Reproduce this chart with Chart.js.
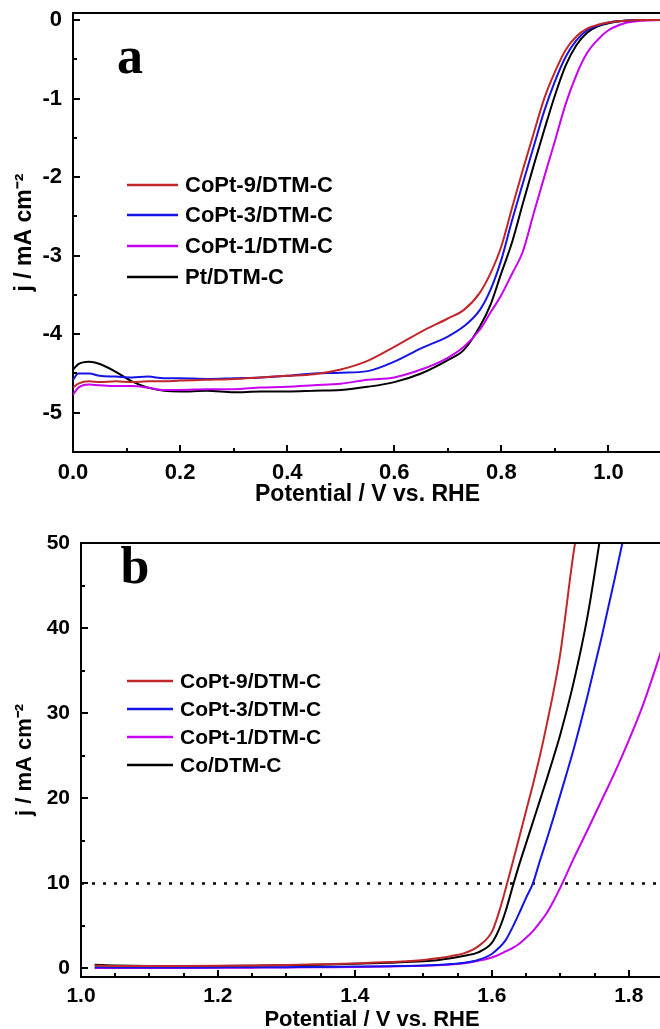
<!DOCTYPE html>
<html>
<head>
<meta charset="utf-8">
<script src="https://cdn.jsdelivr.net/npm/chart.js@4.4.1/dist/chart.umd.min.js"></script>
<style>
  html, body { margin: 0; padding: 0; background: #fff; overflow: hidden; width: 660px; height: 1029px; }
  .panel { position: absolute; left: 0; }
  #boxA { top: 0; width: 662px; height: 515px; }
  #boxB { top: 515px; width: 663px; height: 530px; }
</style>
</head>
<body>
<div class="panel" id="boxA"><canvas id="chartA"></canvas></div>
<div class="panel" id="boxB"><canvas id="chartB"></canvas></div>
<script>
// ---- panel a : ORR polarisation curves ----
const potA = [0.00, 0.01, 0.03, 0.05, 0.08, 0.11, 0.14, 0.17, 0.20, 0.25, 0.30, 0.35, 0.40, 0.45, 0.50, 0.55,
  0.60, 0.65, 0.70, 0.73, 0.76, 0.78, 0.80, 0.82, 0.84, 0.86, 0.88, 0.90, 0.92, 0.94, 0.96, 0.98, 1.00, 1.03, 1.06, 1.10];
const jCoPt9A = [-4.68, -4.63, -4.60, -4.61, -4.60, -4.61, -4.60, -4.60, -4.59, -4.58, -4.57, -4.55, -4.53, -4.51, -4.45, -4.34,
  -4.16, -3.97, -3.80, -3.69, -3.47, -3.22, -2.88, -2.39, -1.91, -1.45, -1.00, -0.66, -0.38, -0.21, -0.11, -0.06, -0.03, -0.01, 0, 0];
const jCoPt3A = [-4.58, -4.50, -4.50, -4.53, -4.54, -4.55, -4.54, -4.56, -4.56, -4.57, -4.56, -4.55, -4.53, -4.50, -4.49, -4.47,
  -4.35, -4.18, -4.03, -3.90, -3.69, -3.43, -3.05, -2.55, -2.08, -1.62, -1.16, -0.78, -0.47, -0.26, -0.13, -0.07, -0.03, -0.01, 0, 0];
const jCoPt1A = [-4.77, -4.68, -4.64, -4.65, -4.66, -4.66, -4.68, -4.71, -4.71, -4.70, -4.70, -4.68, -4.67, -4.65, -4.63, -4.58,
  -4.55, -4.45, -4.30, -4.16, -3.94, -3.72, -3.50, -3.23, -2.95, -2.47, -2.00, -1.54, -1.07, -0.70, -0.42, -0.25, -0.13, -0.04, -0.01, 0];
const jPtA = [-4.45, -4.38, -4.35, -4.38, -4.48, -4.60, -4.68, -4.72, -4.73, -4.72, -4.74, -4.73, -4.73, -4.72, -4.71, -4.67,
  -4.61, -4.50, -4.33, -4.20, -3.90, -3.62, -3.22, -2.83, -2.34, -1.86, -1.40, -0.96, -0.58, -0.32, -0.16, -0.08, -0.04, -0.01, 0, 0];
const namesA = ['CoPt-9/DTM-C', 'CoPt-3/DTM-C', 'CoPt-1/DTM-C', 'Pt/DTM-C'];
const xRangeA = [0, 1.1];
const yRangeA = [-5.5, 0.09];
const xTicksA = [0, 0.1, 0.2, 0.3, 0.4, 0.5, 0.6, 0.7, 0.8, 0.9, 1.0];
const xLabelsA = ['0.0', '', '0.2', '', '0.4', '', '0.6', '', '0.8', '', '1.0'];
const yTicksA = [-5, -4.5, -4, -3.5, -3, -2.5, -2, -1.5, -1, -0.5, 0];
const yLabelsA = ['-5', '', '-4', '', '-3', '', '-2', '', '-1', '', '0'];

// ---- panel b : OER polarisation curves ----
const potB = [1.02, 1.05, 1.10, 1.15, 1.20, 1.25, 1.30, 1.35, 1.40, 1.45, 1.50, 1.52, 1.54, 1.56, 1.58, 1.60, 1.61,
  1.62, 1.63, 1.64, 1.65, 1.66, 1.67, 1.68, 1.69, 1.70, 1.72, 1.74, 1.76, 1.78, 1.80, 1.82, 1.84, 1.86];
const jCoPt9B = [0.35, 0.30, 0.30, 0.30, 0.32, 0.36, 0.42, 0.50, 0.60, 0.75, 1.0, 1.2, 1.45, 1.8, 2.6, 4.3, 6.5,
  9.3, 12.3, 15.4, 18.5, 21.6, 24.9, 28.6, 32.5, 37.0, 49.2, 58, null, null, null, null, null, null];
const jCoPt3B = [0.15, 0.12, 0.12, 0.12, 0.13, 0.14, 0.16, 0.18, 0.22, 0.27, 0.35, 0.42, 0.52, 0.68, 1.0, 1.7, 2.4,
  3.3, 4.8, 6.5, 8.3, 10.0, 12.6, 15.1, 17.7, 20.4, 25.9, 32.1, 38.8, 46.0, 53.5, null, null, null];
const jCoPt1B = [0.05, 0.05, 0.06, 0.07, 0.08, 0.10, 0.12, 0.15, 0.18, 0.23, 0.32, 0.38, 0.48, 0.62, 0.9, 1.3, 1.6,
  2.0, 2.4, 2.9, 3.6, 4.4, 5.4, 6.5, 7.9, 9.5, 13.0, 16.3, 19.7, 23.1, 26.8, 30.8, 35.5, 40.5];
const jCoB = [0.45, 0.35, 0.30, 0.30, 0.30, 0.33, 0.38, 0.45, 0.55, 0.68, 0.85, 0.98, 1.2, 1.5, 1.9, 3.0, 4.5,
  6.7, 9.5, 12.2, 14.7, 17.2, 19.7, 22.2, 24.8, 27.5, 33.8, 41.5, 51.5, null, null, null, null, null];
const namesB = ['CoPt-9/DTM-C', 'CoPt-3/DTM-C', 'CoPt-1/DTM-C', 'Co/DTM-C'];
const xRangeB = [1.0, 1.85];
const yRangeB = [-1, 50];
const refLevelB = 10;
const xTicksB = [1.0, 1.05, 1.1, 1.15, 1.2, 1.25, 1.3, 1.35, 1.4, 1.45, 1.5, 1.55, 1.6, 1.65, 1.7, 1.75, 1.8];
const xLabelsB = ['1.0', '', '', '', '1.2', '', '', '', '1.4', '', '', '', '1.6', '', '', '', '1.8'];
const yTicksB = [0, 5, 10, 15, 20, 25, 30, 35, 40, 45, 50];
const yLabelsB = ['0', '', '10', '', '20', '', '30', '', '40', '', '50'];

const seriesColors = ['#c0262a', '#1414e6', '#c800f0', '#000000'];
const sans = '"Liberation Sans", Arial, sans-serif';

function toXY(xs, ys) {
  return xs.map((x, i) => ({ x: x, y: ys[i] }));
}

// no extra room for overhanging tick labels: the plot box is placed by hand
function noOverhang(s) {
  s.paddingTop = 0;
  s.paddingBottom = 0;
  s.paddingLeft = 0;
  s.paddingRight = 0;
}

// top/right frame, inward tick marks, panel letter and the in-plot legend
const framePlugin = {
  id: 'frame',
  afterDraw(chart, args, opts) {
    const { ctx, chartArea: a } = chart;
    ctx.save();
    ctx.strokeStyle = '#000';
    ctx.lineWidth = 2;
    ctx.beginPath();
    ctx.moveTo(a.left - 1, a.top);
    ctx.lineTo(a.right, a.top);
    ctx.lineTo(a.right, a.bottom);
    const xs = chart.scales.x, ys = chart.scales.y;
    xs.ticks.forEach(t => {
      const px = Math.round(xs.getPixelForValue(t.value));
      ctx.moveTo(px, a.bottom);
      ctx.lineTo(px, a.bottom - (t.label ? 7 : 4));
    });
    ys.ticks.forEach(t => {
      const py = Math.round(ys.getPixelForValue(t.value));
      ctx.moveTo(a.left, py);
      ctx.lineTo(a.left + (t.label ? 7 : 4), py);
    });
    ctx.stroke();

    ctx.fillStyle = '#000';
    ctx.font = 'bold 52px "Liberation Serif", "Times New Roman", serif';
    ctx.textAlign = 'center';
    ctx.textBaseline = 'alphabetic';
    ctx.fillText(opts.letter, a.left + opts.letterX, a.top + opts.letterY);

    ctx.font = 'bold ' + opts.legendSize + 'px ' + sans;
    ctx.textAlign = 'left';
    ctx.textBaseline = 'middle';
    opts.names.forEach((name, i) => {
      const y = a.top + opts.rows[i];
      ctx.strokeStyle = seriesColors[i];
      ctx.lineWidth = 2.5;
      ctx.beginPath();
      ctx.moveTo(a.left + opts.lineX[0], y);
      ctx.lineTo(a.left + opts.lineX[1], y);
      ctx.stroke();
      ctx.fillText(name, a.left + opts.textX, y + 1);
    });
    ctx.restore();
  }
};

function makeChart(id, cfg) {
  const datasets = cfg.series.map((ys, i) => ({
    label: cfg.names[i],
    data: toXY(cfg.pot, ys),
    borderColor: seriesColors[i],
    borderWidth: 2,
    pointRadius: 0,
    cubicInterpolationMode: 'monotone'
  }));
  if (cfg.extra) datasets.push(cfg.extra);
  return new Chart(document.getElementById(id), {
    type: 'line',
    data: { datasets: datasets },
    plugins: [framePlugin],
    options: {
      responsive: true,
      maintainAspectRatio: false,
      animation: false,
      layout: { padding: { top: cfg.padTop, right: 0, bottom: 0, left: 0 } },
      plugins: {
        legend: { display: false },
        tooltip: { enabled: false },
        frame: cfg.frame
      },
      scales: {
        x: {
          type: 'linear',
          min: cfg.xRange[0],
          max: cfg.xRange[1],
          afterBuildTicks: (s) => { s.ticks = cfg.xTicks.map(v => ({ value: v })); },
          afterFit: (s) => { s.height = cfg.xAxisH; noOverhang(s); },
          grid: { display: false, drawTicks: false },
          border: { display: true, color: '#000', width: 2 },
          ticks: {
            autoSkip: false, maxRotation: 0, padding: cfg.xTickPad, color: '#000',
            font: { family: sans, size: cfg.tickSize, weight: 'bold' },
            callback: (v, i) => cfg.xLabels[i]
          },
          title: {
            display: true, text: 'Potential / V vs. RHE', color: '#000',
            font: { family: sans, size: cfg.titleSize, weight: 'bold' },
            padding: { top: 0, bottom: cfg.xTitlePad }
          }
        },
        y: {
          min: cfg.yRange[0],
          max: cfg.yRange[1],
          afterBuildTicks: (s) => { s.ticks = cfg.yTicks.map(v => ({ value: v })); },
          afterFit: (s) => { s.width = cfg.yAxisW; noOverhang(s); },
          grid: { display: false, drawTicks: false },
          border: { display: true, color: '#000', width: 2 },
          ticks: {
            autoSkip: false, padding: 11, color: '#000',
            font: { family: sans, size: cfg.tickSize, weight: 'bold' },
            callback: (v, i) => cfg.yLabels[i]
          },
          title: {
            display: true, text: 'j / mA cm\u207B\u00B2', color: '#000',
            font: { family: sans, size: cfg.titleSize, weight: 'bold' },
            padding: { top: cfg.yTitlePad, bottom: 0 }
          }
        }
      }
    }
  });
}

makeChart('chartA', {
  pot: potA, series: [jCoPt9A, jCoPt3A, jCoPt1A, jPtA], names: namesA,
  xRange: xRangeA, yRange: yRangeA, xTicks: xTicksA, xLabels: xLabelsA, yTicks: yTicksA, yLabels: yLabelsA,
  padTop: 13, xAxisH: 63, yAxisW: 73, tickSize: 22, titleSize: 23, xTickPad: 8, xTitlePad: 7, yTitlePad: 11,
  frame: { letter: 'a', letterX: 57, letterY: 60, names: namesA, legendSize: 22,
    lineX: [54, 105], textX: 112, rows: [172, 202, 233, 264] }
});

makeChart('chartB', {
  pot: potB, series: [jCoPt9B, jCoPt3B, jCoPt1B, jCoB], names: namesB,
  xRange: xRangeB, yRange: yRangeB, xTicks: xTicksB, xLabels: xLabelsB, yTicks: yTicksB, yLabels: yLabelsB,
  padTop: 28, xAxisH: 68, yAxisW: 81, tickSize: 21, titleSize: 22, xTickPad: 7, xTitlePad: 12, yTitlePad: 12,
  extra: {
    label: 'ref', data: toXY(xRangeB, [refLevelB, refLevelB]),
    borderColor: '#000', borderWidth: 2.5, borderDash: [3, 8], pointRadius: 0
  },
  frame: { letter: 'b', letterX: 54, letterY: 40, names: namesB, legendSize: 21,
    lineX: [46, 92], textX: 99, rows: [138, 166, 194, 222] }
});
</script>
</body>
</html>
